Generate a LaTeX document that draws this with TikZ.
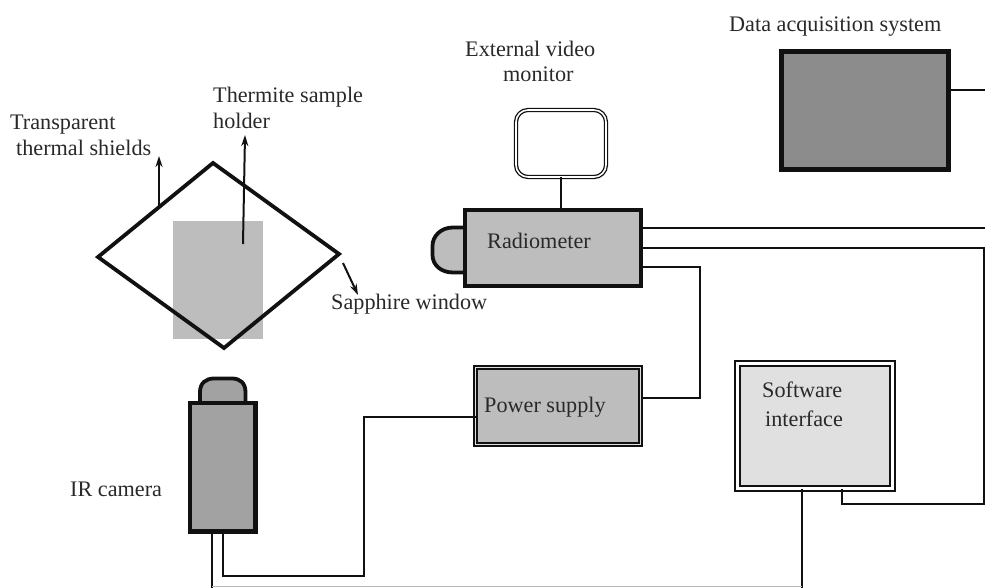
\documentclass[tikz,border=0pt]{standalone}
\usepackage{fontspec}
\setmainfont{Liberation Serif}
\usetikzlibrary{arrows.meta}
\definecolor{shadeA}{HTML}{BDBDBD}
\definecolor{shadeB}{HTML}{8C8C8C}
\definecolor{shadeC}{HTML}{E0E0E0}
\definecolor{shadeD}{HTML}{A2A2A2}
\definecolor{ink}{HTML}{111111}
\tikzset{
  lbl/.style={font=\fontsize{22.2}{26}\selectfont, text=ink!90!white, inner sep=0pt, align=left, anchor=base west},
  wire/.style={draw=ink, line width=2pt},
  ptr/.style={draw=ink, line width=2pt, -{Stealth[length=11pt,width=7pt]}},
  boxbase/.style={rectangle, inner sep=0pt, outer sep=0pt, anchor=north west},
  heavy/.style={boxbase, draw=ink, line width=4.5pt},
  twin/.style={boxbase, draw=ink, line width=1.7pt}
}
\begin{document}
\begin{tikzpicture}[x=1pt,y=-1pt]
\useasboundingbox (0,0) rectangle (985,588);
% sample holder and shield
\node[boxbase, fill=shadeA, minimum width=90pt, minimum height=118pt] (holder) at (173,221) {};
\coordinate (dt) at (213,163);
\coordinate (dr) at (339,254);
\coordinate (db) at (224,348);
\coordinate (dl) at (98,257);
\draw[draw=ink, line width=3.8pt, line join=miter] (dt) -- (dr) -- (db) -- (dl) -- cycle;
\coordinate (a1s) at (159,207); \coordinate (a1e) at (159,156);
\coordinate (a2s) at (243,244); \coordinate (a2e) at (245,135);
\coordinate (a3s) at (343,263); \coordinate (a3e) at (358,295);
\draw[ptr] (a1s) -- (a1e);
\draw[ptr] (a2s) -- (a2e);
\draw[ptr] (a3s) -- (a3e);
% radiometer
\draw[draw=ink, fill=shadeA, line width=3.8pt] (464,227.5) -- (453,227.5) .. controls (441,227.5) and (432.5,236) .. (432.5,246) -- (432.5,255) .. controls (432.5,265) and (441,272.5) .. (453,272.5) -- (464,272.5);
\node[heavy, fill=shadeA, line width=4pt, minimum width=176pt, minimum height=76pt] (radio) at (465,210) {};
% monitor
\node[boxbase, draw=ink, double=white, double distance=1.6pt, line width=1.3pt, rounded corners=12pt, minimum width=90pt, minimum height=67pt] (mon) at (516,110) {};
\draw[wire] (mon.south) -- (radio.north -| mon.south);
% data acquisition
\node[heavy, fill=shadeB, line width=5pt, minimum width=167pt, minimum height=118pt] (daq) at (781.5,51.5) {};
\coordinate (edgeA) at (985,90);
\draw[wire] (daq.east |- edgeA) -- (edgeA);
% power supply
\node[twin, double=shadeC, double distance=1.7pt, fill=shadeA, minimum width=165pt, minimum height=77pt] (power) at (475.5,367.5) {};
% software
\node[twin, line width=2.2pt, double=white, double distance=2.6pt, fill=shadeC, minimum width=155pt, minimum height=125pt] (soft) at (737.5,363.5) {};
% camera
\draw[draw=ink, fill=shadeD, line width=3.8pt] (200,401) -- (200,392) .. controls (200,383) and (206,378.5) .. (214,378.5) -- (232,378.5) .. controls (240,378.5) and (245.5,383) .. (245.5,392) -- (245.5,401);
\node[heavy, fill=shadeD, minimum width=65.5pt, minimum height=128.5pt] (cam) at (190.2,403.2) {};
% wires
\coordinate (edgeB) at (985,228);
\coordinate (edgeC) at (984,248);
\coordinate (edgeD) at (984,504);
\coordinate (softtap) at (842,504);
\draw[wire] (radio.east |- edgeB) -- (edgeB);
\draw[wire] (radio.east |- edgeC) -- (edgeC) -- (edgeD) -- (softtap) -- (soft.south -| softtap);
\coordinate (rp1) at (700,267);
\coordinate (rp2) at (700,398);
\draw[wire] (radio.east |- rp1) -- (rp1) -- (rp2) -- (power.east |- rp2);
\coordinate (pc1) at (364,417);
\coordinate (pc2) at (364,576);
\coordinate (pc3) at (223,576);
\draw[wire] (power.west |- pc1) -- (pc1) -- (pc2) -- (pc3) -- (cam.south -| pc3);
\coordinate (busL) at (212,588);
\coordinate (busR) at (802,588);
\draw[wire] (cam.south -| busL) -- (busL);
\draw[wire] (soft.south -| busR) -- (busR);
\draw[draw=ink!30!white, line width=1pt] (212,586.5) -- (802,586.5);
% labels
\node[lbl] (t1) at (10,130) {Transparent};
\node[lbl] (t2) at (16,156) {thermal shields};
\node[lbl] (t3) at (213,103) {Thermite sample};
\node[lbl] (t4) at (213,129) {holder};
\node[lbl] (t5) at (331,309) {Sapphire window};
\node[lbl] (t6) at (465,57) {External video};
\node[lbl] (t7) at (503,82) {monitor};
\node[lbl] (t8) at (729,32) {Data acquisition system};
\node[lbl] (t9) at (487,248) {Radiometer};
\node[lbl] (t10) at (484,412) {Power supply};
\node[lbl] (t11) at (762,397) {Software};
\node[lbl] (t12) at (765,426) {interface};
\node[lbl] (t13) at (70,496) {IR camera};
\end{tikzpicture}
\end{document}
